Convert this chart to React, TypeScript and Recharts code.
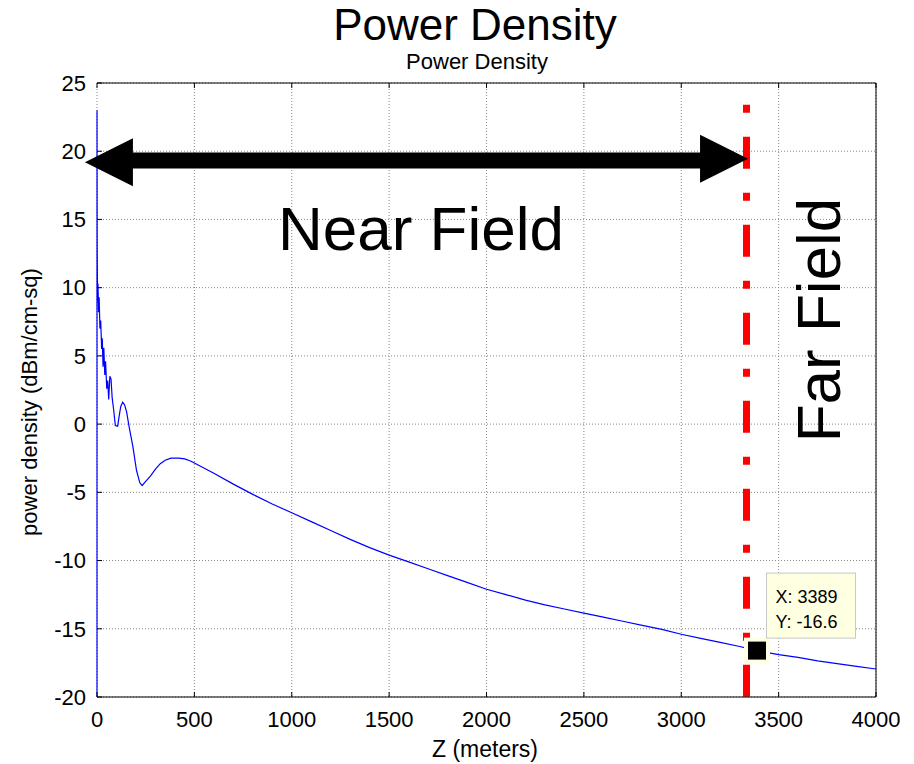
import React from 'react';
import { LineChart, Line, XAxis, YAxis, CartesianGrid, ReferenceLine, ReferenceDot } from 'recharts';

// distance along z (meters) and measured power density (dBm/cm-sq)
const zMeters = [
  0, 0, 1, 3, 5, 8, 11, 15, 19, 24, 27, 31, 35, 40, 44, 50, 55, 60, 66, 72, 78, 86, 94, 106,
  114, 122, 132, 142, 152, 165, 185, 203, 220, 232, 250, 275, 300, 325, 350, 380, 420, 450, 480,
  500, 600, 700, 800, 900, 1000, 1100, 1200, 1300, 1400, 1500, 1600, 1700, 1800, 1900, 2000,
  2100, 2200, 2300, 2400, 2500, 2600, 2700, 2800, 2900, 3000, 3100, 3200, 3300, 3389, 3500,
  3600, 3700, 3800, 3900, 4000,
];
const powerDensity = [
  -20, 23.0, 13.0, 9.0, 10.3, 8.2, 9.3, 7.0, 7.6, 5.5, 6.3, 4.2, 5.6, 3.6, 4.6, 2.6, 3.2, 1.8,
  3.5, 3.3, 1.9, 1.0, -0.1, -0.15, 0.6, 1.3, 1.6, 1.4, 0.9, -0.2, -1.7, -3.4, -4.3, -4.5, -4.2,
  -3.8, -3.3, -2.9, -2.65, -2.5, -2.5, -2.55, -2.7,
  -2.85, -3.6, -4.4, -5.15, -5.85, -6.5, -7.15, -7.8, -8.45, -9.05, -9.6, -10.1, -10.6, -11.1,
  -11.6, -12.1, -12.5, -12.9, -13.25, -13.55, -13.85, -14.15, -14.45, -14.75, -15.05, -15.4,
  -15.7, -16.0, -16.3, -16.6, -16.9, -17.1, -17.35, -17.55, -17.75, -17.95,
];

const xTicks = [0, 500, 1000, 1500, 2000, 2500, 3000, 3500, 4000];
const yTicks = [-20, -15, -10, -5, 0, 5, 10, 15, 20, 25];

// annotations
const farFieldZ = [3335];
const farFieldTop = [23.4];
const arrowZ = [-62, 3343];
const arrowY = [19.2, 19.45];
const tipX = [3389];
const tipY = [-16.6];

const data = zMeters.map((z, i) => ({ z, v: powerDensity[i] }));

const font = '"Liberation Sans", Arial, sans-serif';
const tickStyle = { fontSize: 22, fill: '#000', fontFamily: font };

const DoubleArrow = (p: any) => {
  const { x1, y1, x2, y2 } = p;
  const head = 48;
  const half = 24;
  const shaft = 8;
  const ym = (y1 + y2) / 2;
  const pts = [
    [x1, y1],
    [x1 + head, y1 - half],
    [x1 + head, ym - shaft],
    [x2 - head, ym - shaft],
    [x2 - head, y2 - half],
    [x2, y2],
    [x2 - head, y2 + half],
    [x2 - head, ym + shaft],
    [x1 + head, ym + shaft],
    [x1 + head, y1 + half],
  ]
    .map((q) => q.join(','))
    .join(' ');
  return <polygon points={pts} fill="#000" />;
};

const DataTip = (p: any) => {
  const { cx, cy } = p;
  return (
    <g>
      <rect x={cx - 13} y={cy - 13} width={26} height={26} fill="#ffffe1" />
      <rect x={cx - 9} y={cy - 9} width={18} height={18} fill="#000" />
      <rect x={cx + 9.5} y={cy - 77.5} width={89} height={65} fill="#ffffe1" stroke="#c8c8c8" />
      <text x={cx + 18.5} y={cy - 47.5} fontSize={18} fontFamily={font} fill="#000">
        {`X: ${tipX[0]}`}
      </text>
      <text x={cx + 18.5} y={cy - 22.5} fontSize={18} fontFamily={font} fill="#000">
        {`Y: ${tipY[0]}`}
      </text>
    </g>
  );
};

const App = () => {
  return (
    <div style={{ position: 'absolute', left: 0, top: 0, width: 914, height: 764, background: '#fff', fontFamily: font }}>
      <LineChart width={914} height={764} data={data} margin={{ top: 82, right: 37, bottom: 0, left: 0 }}>
        <CartesianGrid stroke="#888" strokeDasharray="1 2" />
        <XAxis
          dataKey="z"
          type="number"
          domain={[0, 4000]}
          ticks={xTicks}
          height={67}
          tickSize={-5}
          tickMargin={19}
          tick={tickStyle}
          stroke="#000"
        />
        <XAxis
          xAxisId="top"
          orientation="top"
          dataKey="z"
          type="number"
          domain={[0, 4000]}
          ticks={xTicks}
          height={1}
          tickSize={-5}
          tick={() => <g />}
          stroke="#000"
        />
        <YAxis
          type="number"
          domain={[-20, 25]}
          ticks={yTicks}
          width={97}
          tickSize={-5}
          tickMargin={16}
          tick={tickStyle}
          stroke="#000"
          axisLine={false}
        />
        <YAxis
          yAxisId="right"
          orientation="right"
          type="number"
          domain={[-20, 25]}
          ticks={yTicks}
          width={1}
          tickSize={-5}
          tick={() => <g />}
          stroke="#000"
        />
        <Line
          type="linear"
          dataKey="v"
          stroke="#0000ff"
          strokeWidth={1.2}
          dot={false}
          isAnimationActive={false}
        />
        <ReferenceLine
          segment={[
            { x: farFieldZ[0], y: farFieldTop[0] },
            { x: farFieldZ[0], y: -20 },
          ]}
          stroke="#ff0000"
          strokeWidth={7}
          strokeDasharray="8 24 32 24"
          ifOverflow="visible"
        />
        <ReferenceLine
          segment={[
            { x: arrowZ[0], y: arrowY[0] },
            { x: arrowZ[1], y: arrowY[1] },
          ]}
          ifOverflow="visible"
          shape={DoubleArrow}
        />
        <ReferenceDot x={tipX[0]} y={tipY[0]} ifOverflow="visible" shape={DataTip} />
      </LineChart>
      <svg width={914} height={764} style={{ position: 'absolute', left: 0, top: 0, pointerEvents: 'none' }}>
        <g fontFamily={font} fill="#000">
          <text x={475} y={40} fontSize={44} textAnchor="middle">Power Density</text>
          <text x={477} y={69} fontSize={22} textAnchor="middle">Power Density</text>
          <text x={485} y={757} fontSize={23} textAnchor="middle">Z (meters)</text>
          <text transform="translate(37,402) rotate(-90)" fontSize={22} textAnchor="middle">
            power density (dBm/cm-sq)
          </text>
          <text x={421} y={250} fontSize={62} textAnchor="middle">Near Field</text>
          <text transform="translate(840,320) rotate(-90)" fontSize={62} textAnchor="middle">
            Far Field
          </text>
        </g>
      </svg>
    </div>
  );
};

export default App;
